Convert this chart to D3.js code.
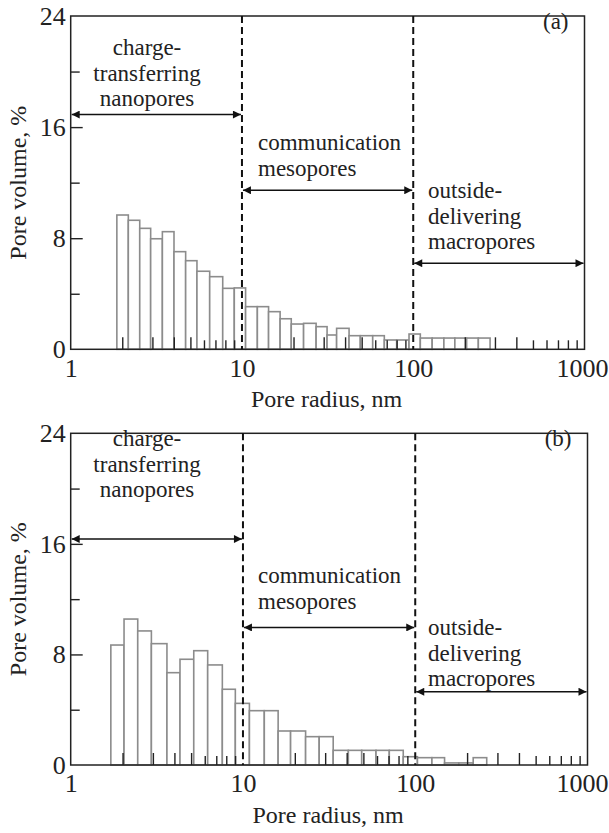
<!DOCTYPE html>
<html>
<head>
<meta charset="utf-8">
<script src="https://cdn.jsdelivr.net/npm/d3@7"></script>
<style>
  body { margin: 0; background: #fff; }
  svg text { font-family: "Liberation Serif", "DejaVu Serif", serif; fill: #222; }
</style>
</head>
<body>
<svg id="chart" width="609" height="833"></svg>
<script>
// Pore size distributions, two samples (a) and (b)
const yTicksMajor = [0, 8, 16, 24];
const yTicksMinor = [4, 12, 20];
const xTicksMajor = [1, 10, 100, 1000];
const xTicksLong = [2, 3, 4, 5, 20, 30, 40, 50, 200, 300, 400];
const xTicksShort = [6, 7, 8, 9, 60, 70, 80, 90, 500, 600, 700, 800, 900];
const regionBounds = [10, 100];

const nanoLabel = ['charge-', 'transferring', 'nanopores'];
const mesoLabel = ['communication', 'mesopores'];
const macroLabel = ['outside-', 'delivering', 'macropores'];

// bin edges (nm) and pore volume (%) for panel (a)
const edgesA = [1.86, 2.17, 2.53, 2.93, 3.43, 4.01, 4.69, 5.46, 6.48, 7.72, 9.02,
  10.5, 12.3, 14.3, 16.7, 19.4, 22.9, 27.1, 31.4, 35.7, 42.2, 49.1, 58.0, 67.8,
  80.1, 94.5, 110, 129, 151, 175, 205, 240, 281];
const volumeA = [9.67, 9.29, 8.71, 7.96, 8.47, 7.03, 6.38, 5.62, 5.23, 4.39, 4.42,
  3.07, 3.07, 2.71, 2.20, 1.82, 1.87, 1.63, 1.03, 1.51, 0.98, 0.98, 0.98, 0.67,
  0.67, 1.10, 0.81, 0.81, 0.81, 0.81, 0.81, 0.81];

// bin edges (nm) and pore volume (%) for panel (b)
const edgesB = [1.71, 2.04, 2.45, 2.94, 3.62, 4.31, 5.18, 6.24, 7.59, 9.03, 10.9,
  13.3, 16.0, 18.9, 23.1, 27.7, 33.4, 40.9, 48.9, 59.2, 70.7, 85.2, 103, 125,
  148, 179, 217, 260];
const volumeB = [8.68, 10.56, 9.70, 8.78, 6.68, 7.65, 8.27, 7.24, 5.48, 4.46, 3.93,
  3.93, 2.46, 2.46, 2.05, 2.05, 1.06, 1.06, 1.06, 1.06, 1.06, 0.60, 0.53, 0.53,
  0.15, 0.15, 0.53];

const svg = d3.select('#chart');

// arrow head
svg.append('defs').append('marker')
    .attr('id', 'head')
    .attr('viewBox', '0 0 10 10')
    .attr('refX', 10).attr('refY', 5)
    .attr('markerUnits', 'userSpaceOnUse')
    .attr('markerWidth', 15).attr('markerHeight', 8)
    .attr('orient', 'auto-start-reverse')
    .append('path')
    .attr('d', 'M0,0 L10,5 L0,10 Z')
    .attr('fill', '#111');

function drawPanel(p) {
    const x = d3.scaleLog().domain([1, 1000]).range([p.left, p.right]);
    const y = d3.scaleLinear().domain([0, 24]).range([p.bottom, p.top]);
    const g = svg.append('g');

    const bins = p.values.map((v, i) => ({x0: p.edges[i], x1: p.edges[i + 1], v}));

    // Bars
    g.selectAll('rect.bar')
        .data(bins)
        .join('rect')
        .attr('class', 'bar')
        .attr('x', d => x(d.x0))
        .attr('y', d => y(d.v))
        .attr('width', d => x(d.x1) - x(d.x0))
        .attr('height', d => y(0) - y(d.v))
        .attr('fill', '#fff')
        .attr('stroke', '#8c8c8c')
        .attr('stroke-width', 1.6);

    // Inward x ticks
    g.append('g')
        .attr('transform', `translate(0,${p.bottom})`)
        .call(d3.axisBottom(x).tickValues(xTicksLong).tickSize(-12).tickFormat(''))
        .call(s => s.select('.domain').remove());
    g.append('g')
        .attr('transform', `translate(0,${p.bottom})`)
        .call(d3.axisBottom(x).tickValues(xTicksShort).tickSize(-9).tickFormat(''))
        .call(s => s.select('.domain').remove());
    g.selectAll('.tick line').attr('stroke', '#222').attr('stroke-width', 1.6);

    // x labels (last one kept inside the page edge)
    g.append('g')
        .attr('transform', `translate(0,${p.bottom})`)
        .call(d3.axisBottom(x).tickValues(xTicksMajor).tickSize(0).tickPadding(9).tickFormat(d3.format('d')))
        .call(s => s.select('.domain').remove())
        .selectAll('text')
        .style('font-size', '26px')
        .style('font-family', '"Liberation Serif", serif')
        .attr('fill', '#222')
        .filter(d => d === 1000)
        .attr('text-anchor', 'end')
        .attr('x', 608 - p.right);

    // Inward y ticks
    g.append('g')
        .attr('transform', `translate(${p.left},0)`)
        .call(d3.axisRight(y).tickValues([8, 16]).tickSize(12).tickFormat(''))
        .call(s => s.select('.domain').remove());
    g.append('g')
        .attr('transform', `translate(${p.left},0)`)
        .call(d3.axisRight(y).tickValues(yTicksMinor).tickSize(9).tickFormat(''))
        .call(s => s.select('.domain').remove());
    g.selectAll('.tick line').attr('stroke', '#222').attr('stroke-width', 1.4);

    // y labels
    g.append('g')
        .attr('transform', `translate(${p.left},0)`)
        .call(d3.axisLeft(y).tickValues(yTicksMajor).tickSize(0).tickPadding(5))
        .call(s => s.select('.domain').remove())
        .selectAll('text')
        .style('font-size', '26px')
        .style('font-family', '"Liberation Serif", serif')
        .attr('fill', '#222');

    // frame
    g.append('rect')
        .attr('x', p.left).attr('y', p.top)
        .attr('width', p.right - p.left).attr('height', p.bottom - p.top)
        .attr('fill', 'none')
        .attr('stroke', '#222')
        .attr('stroke-width', 1.5);

    // region boundaries
    g.selectAll('line.bound')
        .data(regionBounds)
        .join('line')
        .attr('class', 'bound')
        .attr('x1', d => x(d)).attr('x2', d => x(d))
        .attr('y1', p.top).attr('y2', p.bottom)
        .attr('stroke', '#111')
        .attr('stroke-width', 2)
        .attr('stroke-dasharray', '7,4');

    // double arrows
    const arrows = [[1, 10, p.arrowY[0]], [10, 100, p.arrowY[1]], [100, 1000, p.arrowY[2]]];
    g.selectAll('line.arrow')
        .data(arrows)
        .join('line')
        .attr('class', 'arrow')
        .attr('x1', d => x(d[0]) + 1).attr('x2', d => x(d[1]) - 1)
        .attr('y1', d => y(d[2])).attr('y2', d => y(d[2]))
        .attr('stroke', '#111')
        .attr('stroke-width', 1.5)
        .attr('marker-start', 'url(#head)')
        .attr('marker-end', 'url(#head)');

    // region captions
    function caption(lines, xPos, yPos, anchor) {
        g.append('text')
            .attr('x', xPos).attr('y', yPos)
            .attr('text-anchor', anchor)
            .style('font-size', '23px')
            .selectAll('tspan')
            .data(lines)
            .join('tspan')
            .attr('x', xPos)
            .attr('dy', (d, i) => i === 0 ? 0 : 25.5)
            .text(d => d);
    }
    caption(nanoLabel, p.nanoX, p.nanoY, 'middle');
    caption(mesoLabel, p.mesoX, p.mesoY, 'start');
    caption(macroLabel, p.macroX, p.macroY, 'start');

    // panel tag
    g.append('text')
        .attr('x', p.right - 16).attr('y', p.top + 13)
        .attr('text-anchor', 'end')
        .style('font-size', '23px')
        .text(p.tag);

    // axis titles
    g.append('text')
        .attr('transform', `translate(${p.left - 45},${(p.top + p.bottom) / 2}) rotate(-90)`)
        .attr('text-anchor', 'middle')
        .style('font-size', '24px')
        .text('Pore volume, %');
    g.append('text')
        .attr('x', (p.left + p.right) / 2 - 1).attr('y', p.bottom + 58)
        .attr('text-anchor', 'middle')
        .style('font-size', '24px')
        .text('Pore radius, nm');
}

drawPanel({
    tag: '(a)', edges: edgesA, values: volumeA,
    left: 70.7, right: 584.5, top: 16, bottom: 349.3,
    arrowY: [16.9, 11.45, 6.2],
    nanoX: 147, nanoY: 55, mesoX: 258, mesoY: 150, macroX: 428, macroY: 198
});
drawPanel({
    tag: '(b)', edges: edgesB, values: volumeB,
    left: 70.7, right: 587.5, top: 433.3, bottom: 765,
    arrowY: [16.35, 9.95, 5.3],
    nanoX: 147, nanoY: 446, mesoX: 258, mesoY: 583, macroX: 428, macroY: 635
});
</script>
</body>
</html>
